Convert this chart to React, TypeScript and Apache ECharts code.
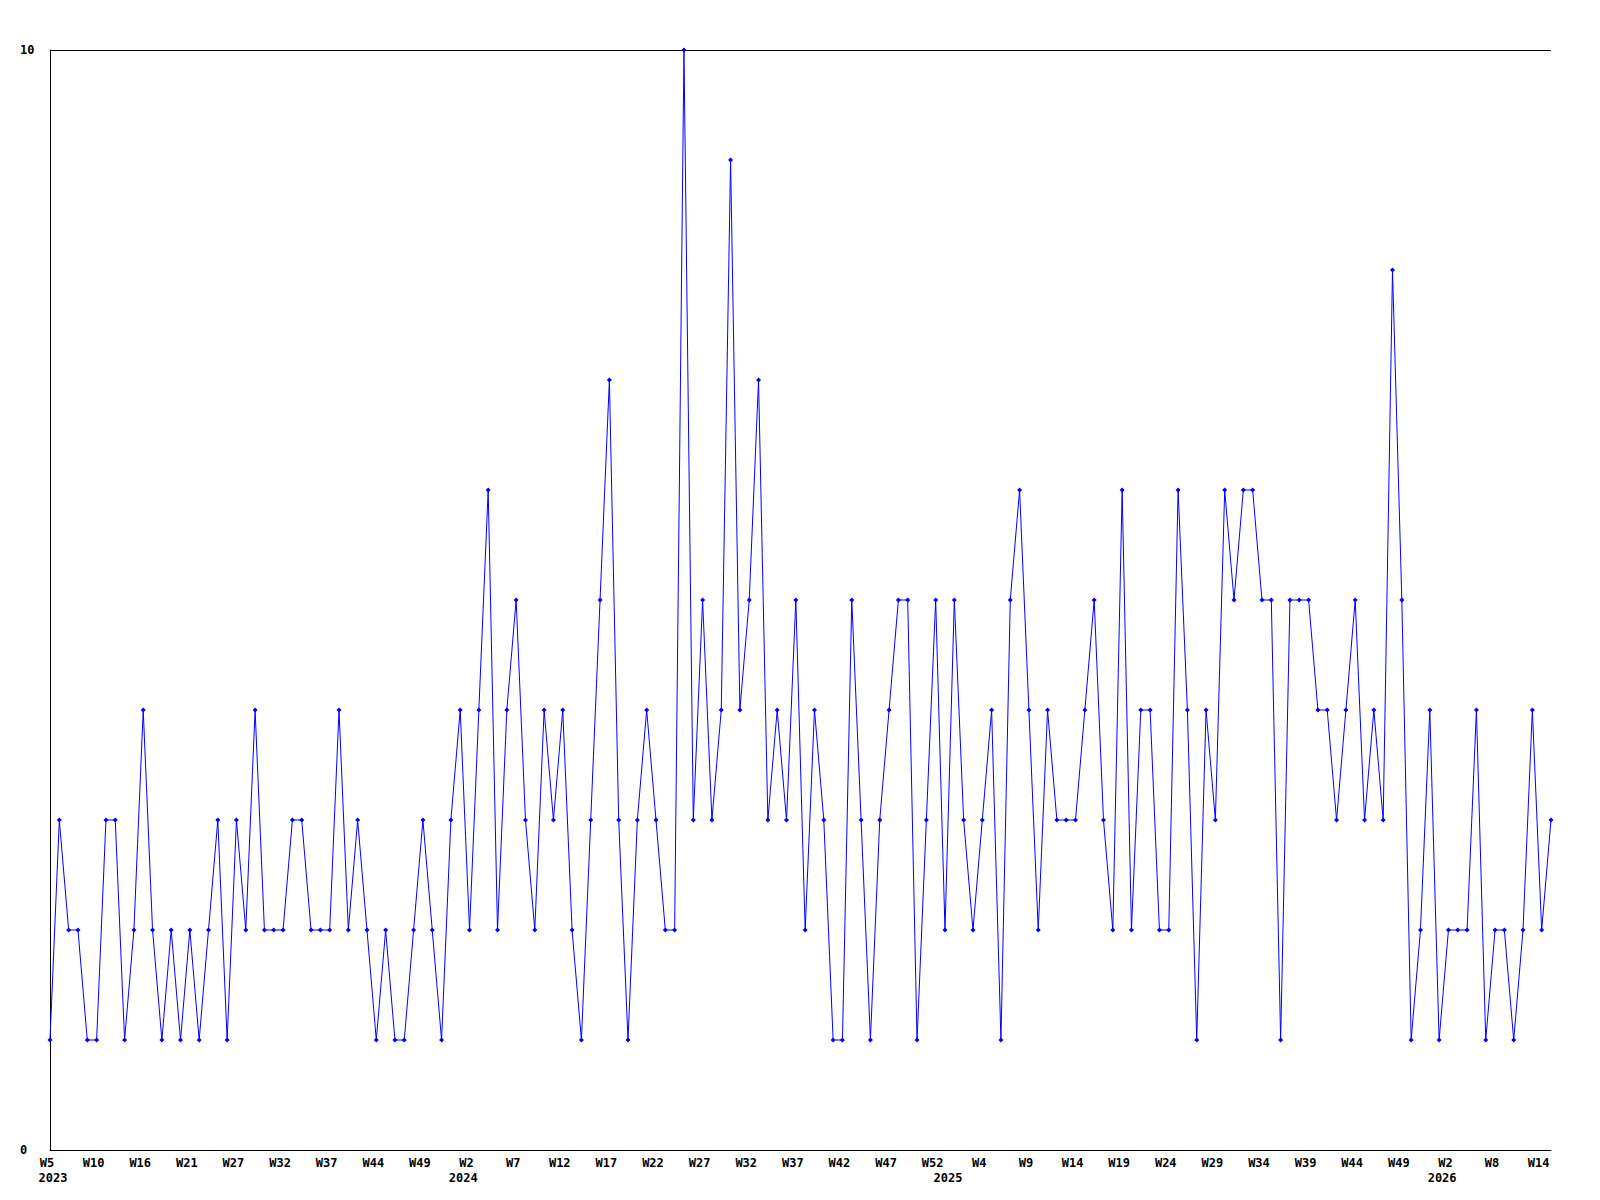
import React, { useEffect, useRef } from "react";
import * as echarts from "echarts";

const categories: string[] = [
  "2023-W05", "2023-W06", "2023-W07", "2023-W08", "2023-W09", "2023-W10", "2023-W11", "2023-W12", "2023-W14", "2023-W15",
  "2023-W16", "2023-W17", "2023-W18", "2023-W19", "2023-W20", "2023-W21", "2023-W22", "2023-W23", "2023-W25", "2023-W26",
  "2023-W27", "2023-W28", "2023-W29", "2023-W30", "2023-W31", "2023-W32", "2023-W33", "2023-W34", "2023-W35", "2023-W36",
  "2023-W37", "2023-W38", "2023-W39", "2023-W41", "2023-W43", "2023-W44", "2023-W45", "2023-W46", "2023-W47", "2023-W48",
  "2023-W49", "2023-W50", "2023-W51", "2023-W52", "2024-W01", "2024-W02", "2024-W03", "2024-W04", "2024-W05", "2024-W06",
  "2024-W07", "2024-W08", "2024-W09", "2024-W10", "2024-W11", "2024-W12", "2024-W13", "2024-W14", "2024-W15", "2024-W16",
  "2024-W17", "2024-W18", "2024-W19", "2024-W20", "2024-W21", "2024-W22", "2024-W23", "2024-W24", "2024-W25", "2024-W26",
  "2024-W27", "2024-W28", "2024-W29", "2024-W30", "2024-W31", "2024-W32", "2024-W33", "2024-W34", "2024-W35", "2024-W36",
  "2024-W37", "2024-W38", "2024-W39", "2024-W40", "2024-W41", "2024-W42", "2024-W43", "2024-W44", "2024-W45", "2024-W46",
  "2024-W47", "2024-W48", "2024-W49", "2024-W50", "2024-W51", "2024-W52", "2025-W00", "2025-W01", "2025-W02", "2025-W03",
  "2025-W04", "2025-W05", "2025-W06", "2025-W07", "2025-W08", "2025-W09", "2025-W10", "2025-W11", "2025-W12", "2025-W13",
  "2025-W14", "2025-W15", "2025-W16", "2025-W17", "2025-W18", "2025-W19", "2025-W20", "2025-W21", "2025-W22", "2025-W23",
  "2025-W24", "2025-W25", "2025-W26", "2025-W27", "2025-W28", "2025-W29", "2025-W30", "2025-W31", "2025-W32", "2025-W33",
  "2025-W34", "2025-W35", "2025-W36", "2025-W37", "2025-W38", "2025-W39", "2025-W40", "2025-W41", "2025-W42", "2025-W43",
  "2025-W44", "2025-W45", "2025-W46", "2025-W47", "2025-W48", "2025-W49", "2025-W50", "2025-W51", "2025-W52", "2026-W01",
  "2026-W02", "2026-W03", "2026-W04", "2026-W05", "2026-W06", "2026-W08", "2026-W09", "2026-W10", "2026-W11", "2026-W12",
  "2026-W14", "2026-W15",
];

const values: number[] = [
  1, 3, 2, 2, 1, 1, 3, 3, 1, 2,
  4, 2, 1, 2, 1, 2, 1, 2, 3, 1,
  3, 2, 4, 2, 2, 2, 3, 3, 2, 2,
  2, 4, 2, 3, 2, 1, 2, 1, 1, 2,
  3, 2, 1, 3, 4, 2, 4, 6, 2, 4,
  5, 3, 2, 4, 3, 4, 2, 1, 3, 5,
  7, 3, 1, 3, 4, 3, 2, 2, 10, 3,
  5, 3, 4, 9, 4, 5, 7, 3, 4, 3,
  5, 2, 4, 3, 1, 1, 5, 3, 1, 3,
  4, 5, 5, 1, 3, 5, 2, 5, 3, 2,
  3, 4, 1, 5, 6, 4, 2, 4, 3, 3,
  3, 4, 5, 3, 2, 6, 2, 4, 4, 2,
  2, 6, 4, 1, 4, 3, 6, 5, 6, 6,
  5, 5, 1, 5, 5, 5, 4, 4, 3, 4,
  5, 3, 4, 3, 8, 5, 1, 2, 4, 1,
  2, 2, 2, 4, 1, 2, 2, 1, 2, 4,
  2, 3,
];

const yMin = 0;
const yMax = 10;
const labelEvery = 5;

function yearOf(i: number): string {
  return categories[i].slice(0, 4);
}
function isYearStart(i: number): boolean {
  return i === 0 || yearOf(i) !== yearOf(i - 1);
}

export default function App() {
  const ref = useRef<HTMLDivElement>(null);
  useEffect(() => {
    if (!ref.current) return;
    const chart = echarts.init(ref.current, null, { renderer: "svg" });
    const font = "'DejaVu Sans Mono', monospace";
    const textBase = {
      color: "#000000",
      fontFamily: font,
      fontWeight: "bold" as const,
      fontSize: 12,
      lineHeight: 15,
    };
    chart.setOption({
      animation: false,
      backgroundColor: "#ffffff",
      grid: { left: 50, right: 49, top: 50, bottom: 50, containLabel: false },
      xAxis: {
        type: "category",
        data: categories,
        boundaryGap: false,
        axisLine: { show: true, lineStyle: { color: "#000000", width: 1 } },
        axisTick: { show: false },
        splitLine: { show: false },
        axisLabel: {
          interval: (index: number) => index % labelEvery === 0 || isYearStart(index),
          formatter: (value: string, index: number) => {
            const wk = "W" + parseInt(value.split("-W")[1], 10);
            const top = index % labelEvery === 0 ? "{w|" + wk + "}" : "";
            const bottom = isYearStart(index) ? "{y|" + yearOf(index) + "}" : "";
            return top + "\n" + bottom;
          },
          ...textBase,
          margin: 5,
          hideOverlap: false,
          rich: {
            w: { ...textBase, padding: [0, 6, 0, 0] },
            y: { ...textBase, padding: [0, 0, 0, 6] },
          },
        },
      },
      yAxis: {
        type: "value",
        min: yMin,
        max: yMax,
        interval: 10,
        axisLine: { show: true, lineStyle: { color: "#000000", width: 1 } },
        axisTick: { show: false },
        splitLine: { show: true, lineStyle: { color: "#000000", width: 1 } },
        axisLabel: {
          color: "#000000",
          fontFamily: font,
          fontWeight: "bold",
          fontSize: 12,
          align: "left",
          margin: 30,
        },
      },
      series: [
        {
          type: "line",
          data: values,
          symbol: "diamond",
          symbolSize: 5,
          showAllSymbol: true,
          lineStyle: { color: "#0000ff", width: 1 },
          itemStyle: { color: "#0000ff", borderWidth: 0 },
        },
      ],
    });
    return () => chart.dispose();
  }, []);
  return (
    <div
      ref={ref}
      style={{ position: "fixed", left: 0, top: 0, width: 1600, height: 1200, background: "#fff" }}
    />
  );
}
